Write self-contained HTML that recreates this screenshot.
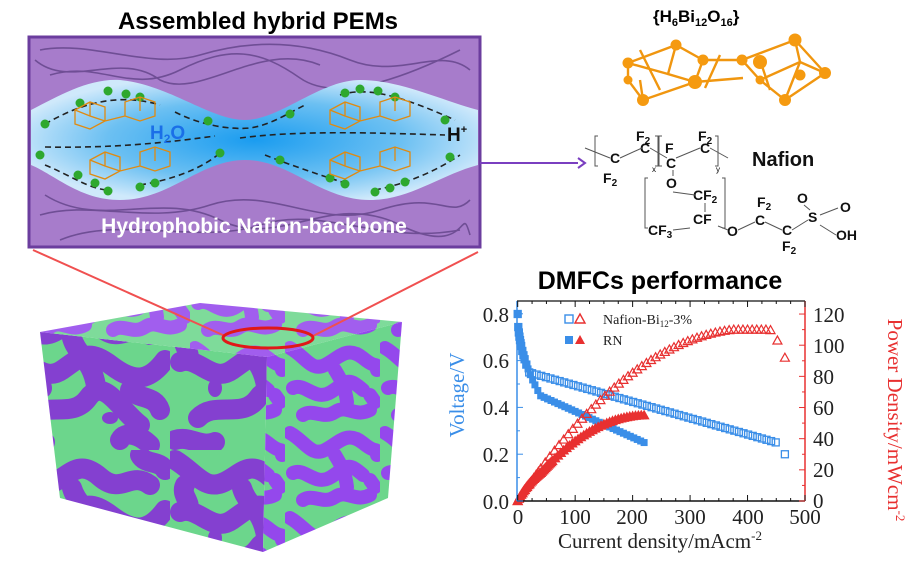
<!DOCTYPE html>
<html><head><meta charset="utf-8">
<style>
html,body{margin:0;padding:0;background:#fff;}
svg{display:block;}
</style></head>
<body>
<svg id="s" width="912" height="562" viewBox="0 0 912 562" xmlns="http://www.w3.org/2000/svg">
<defs>
<radialGradient id="ch" cx="0.5" cy="0.5" r="0.55">
<stop offset="0" stop-color="#1a9cf0"/><stop offset="0.6" stop-color="#6cc0f2"/><stop offset="1" stop-color="#cfe9fb"/>
</radialGradient>
<pattern id="blob" patternUnits="userSpaceOnUse" width="170" height="150">
<rect width="170" height="150" fill="#6cd68c"/>
<g fill="none" stroke="#8440d0" stroke-width="20" stroke-linecap="round" stroke-linejoin="round">
<path d="M5 10 C25 22 34 40 52 33 S78 8 100 27 S130 20 150 35"/>
<path d="M10 62 C28 55 42 84 62 70 S88 48 112 66 S150 80 165 60"/>
<path d="M28 118 C45 100 72 120 88 98 S120 110 140 125"/>
<path d="M72 38 C77 55 92 60 96 86"/>
<path d="M15 35 C10 45 22 52 18 60"/>
<path d="M130 90 C140 100 155 95 160 110"/>
<path d="M5 140 C20 135 30 148 45 142"/>
<path d="M120 140 C125 130 140 135 150 145"/>
<path d="M140 5 C145 15 160 10 165 20"/>
</g>
<g fill="#8440d0"><ellipse cx="110" cy="118" rx="8" ry="6"/><ellipse cx="45" cy="88" rx="7" ry="9"/></g>
</pattern>
<pattern id="blob2" patternUnits="userSpaceOnUse" width="95" height="85">
<rect width="95" height="85" fill="#6cd68c"/>
<g fill="none" stroke="#9448ec" stroke-width="14" stroke-linecap="round" stroke-linejoin="round">
<path d="M5 8 C20 16 26 32 40 25 S62 5 78 18 S90 20 92 30"/>
<path d="M8 48 C20 42 30 62 46 52 S62 36 78 50"/>
<path d="M50 30 C56 40 60 46 62 62"/>
<path d="M18 75 C28 68 38 80 50 72 S70 78 85 70"/>
<path d="M85 55 L90 62"/>
</g>
</pattern>
</defs>

<!-- Top panel -->
<text x="258" y="29" text-anchor="middle" font-family="Liberation Sans, sans-serif" font-weight="bold" font-size="24">Assembled hybrid PEMs</text>
<rect x="29" y="37" width="451" height="210" fill="#a77ccb" stroke="#6b3d9e" stroke-width="3"/>
<g fill="none" stroke="#6a4a90" stroke-width="1.6" opacity="0.9">
<path d="M40 50 C90 40 150 70 200 55 S300 40 350 60 S440 45 470 70"/>
<path d="M50 75 C100 60 130 95 180 70 S260 50 300 78 S420 70 460 50"/>
<path d="M35 60 C70 90 120 50 160 80 C200 100 260 40 320 65"/>
<path d="M40 215 C90 200 150 225 210 205 S320 230 380 210 S450 220 470 200"/>
<path d="M45 195 C100 230 160 190 220 220 S330 190 400 225 S460 200 470 235"/>
<path d="M60 240 C120 215 200 245 260 225 S380 245 460 230"/>
</g>
<path d="M31 110 C60 95 90 78 120 80 C170 85 210 120 245 120 C280 120 320 80 360 80 C400 80 440 100 478 110 L478 165 C440 175 410 200 370 200 C320 200 290 160 245 160 C200 160 170 200 120 200 C80 200 55 175 31 165 Z" fill="url(#ch)"/>
<g fill="none" stroke="#222" stroke-width="1.6" stroke-dasharray="6,4">
<path d="M45 124 C70 110 110 90 160 105"/>
<path d="M175 112 C200 125 230 130 250 128 C270 125 285 115 305 105"/>
<path d="M45 147 C100 148 150 145 215 136"/>
<path d="M240 138 C300 130 380 133 445 135"/>
<path d="M45 165 C70 175 90 190 110 190"/>
<path d="M140 185 C170 180 200 170 220 153"/>
<path d="M265 155 C290 165 320 175 345 183"/>
<path d="M375 190 C400 185 430 175 460 155"/>
<path d="M340 95 C370 85 410 100 455 120"/>
</g>
<g fill="#2ea82e">
<circle cx="45" cy="124" r="4.5"/><circle cx="80" cy="103" r="4.5"/><circle cx="108" cy="91" r="4.5"/><circle cx="126" cy="94" r="4.5"/><circle cx="140" cy="97" r="4.5"/>
<circle cx="208" cy="121" r="4.5"/><circle cx="290" cy="114" r="4.5"/>
<circle cx="345" cy="93" r="4.5"/><circle cx="360" cy="89" r="4.5"/><circle cx="378" cy="91" r="4.5"/><circle cx="395" cy="97" r="4.5"/><circle cx="445" cy="120" r="4.5"/>
<circle cx="40" cy="155" r="4.5"/><circle cx="78" cy="175" r="4.5"/><circle cx="95" cy="183" r="4.5"/><circle cx="108" cy="191" r="4.5"/><circle cx="140" cy="187" r="4.5"/><circle cx="155" cy="183" r="4.5"/><circle cx="220" cy="153" r="4.5"/>
<circle cx="280" cy="160" r="4.5"/><circle cx="330" cy="178" r="4.5"/><circle cx="345" cy="184" r="4.5"/><circle cx="375" cy="192" r="4.5"/><circle cx="390" cy="188" r="4.5"/><circle cx="405" cy="182" r="4.5"/><circle cx="450" cy="157" r="4.5"/>
</g>
<g fill="none" stroke="#e08a10" stroke-width="1.3">
<path d="M75 110 l15 -8 l15 5 l0 14 l-15 8 l-15 -5 z M90 102 l0 14 l15 5 M75 110 l15 6 M105 121 l20 -5 M125 116 l0 -14 l15 -5 l15 5 l0 14 l-15 5 l-15 -5 M140 97 l0 14"/>
<path d="M90 160 l15 -8 l15 5 l0 14 l-15 8 l-15 -5 z M105 152 l0 14 l15 5 M90 160 l15 6 M120 171 l20 -5 M140 166 l0 -14 l15 -5 l15 5 l0 14 l-15 5 l-15 -5 M155 147 l0 14"/>
<path d="M330 110 l15 -8 l15 5 l0 14 l-15 8 l-15 -5 z M345 102 l0 14 l15 5 M330 110 l15 6 M360 121 l20 -5 M380 116 l0 -14 l15 -5 l15 5 l0 14 l-15 5 l-15 -5 M395 97 l0 14"/>
<path d="M330 160 l15 -8 l15 5 l0 14 l-15 8 l-15 -5 z M345 152 l0 14 l15 5 M330 160 l15 6 M360 171 l20 -5 M380 166 l0 -14 l15 -5 l15 5 l0 14 l-15 5 l-15 -5 M395 147 l0 14"/>
</g>
<text x="150" y="139" font-family="Liberation Sans, sans-serif" font-weight="bold" font-size="19" fill="#1a6fe8">H<tspan font-size="12" dy="4">2</tspan><tspan dy="-4">O</tspan></text>
<text x="447" y="141" font-family="Liberation Sans, sans-serif" font-weight="bold" font-size="19" fill="#111">H<tspan font-size="11" dy="-8">+</tspan></text>
<text x="254" y="233" text-anchor="middle" font-family="Liberation Sans, sans-serif" font-weight="bold" font-size="21" fill="#fff">Hydrophobic Nafion-backbone</text>
<line x1="480" y1="163" x2="578" y2="163" stroke="#7a3fc0" stroke-width="2"/>
<path d="M578 158 L585 163 L578 168" fill="none" stroke="#7a3fc0" stroke-width="2"/>

<!-- Right top -->
<text x="653" y="22" font-family="Liberation Sans, sans-serif" font-weight="bold" font-size="17">{H<tspan font-size="11" dy="4">6</tspan><tspan dy="-4">Bi</tspan><tspan font-size="11" dy="4">12</tspan><tspan dy="-4">O</tspan><tspan font-size="11" dy="4">16</tspan><tspan dy="-4">}</tspan></text>
<g stroke="#f0960f" stroke-width="2.4" fill="none">
<path d="M628 63 L676 45 L703 60 L695 82 L643 100 L628 80 Z M676 45 L668 74 L695 82 M628 63 L668 74 M643 100 L640 80 M703 60 L742 60 L760 80 M695 82 L743 78 M742 60 L795 40 L825 73 L785 100 L760 80 Z M795 40 L800 62 L825 73 M760 80 L800 62 M785 100 L800 62 M760 60 L770 90 M640 50 L660 90 M720 55 L705 88"/>
</g>
<g fill="#f59a10">
<circle cx="628" cy="63" r="5.5"/><circle cx="676" cy="45" r="5.5"/><circle cx="703" cy="60" r="5.5"/><circle cx="695" cy="82" r="7"/><circle cx="643" cy="100" r="6"/><circle cx="628" cy="80" r="4.5"/>
<circle cx="742" cy="60" r="5.5"/><circle cx="760" cy="62" r="7"/><circle cx="795" cy="40" r="6.5"/><circle cx="825" cy="73" r="6"/><circle cx="785" cy="100" r="6"/><circle cx="800" cy="75" r="5.5"/><circle cx="760" cy="80" r="4.5"/>
</g>
<g font-family="Liberation Sans, sans-serif" font-weight="bold" font-size="14" fill="#111">
<text x="636" y="141">F<tspan font-size="10" dy="3">2</tspan></text>
<text x="698" y="141">F<tspan font-size="10" dy="3">2</tspan></text>
<text x="610" y="163">C</text><text x="640" y="153">C</text>
<text x="665" y="153">F</text><text x="666" y="168">C</text>
<text x="700" y="153">C</text>
<text x="603" y="183">F<tspan font-size="10" dy="3">2</tspan></text>
<text x="666" y="188">O</text>
<text x="693" y="200">CF<tspan font-size="10" dy="3">2</tspan></text>
<text x="693" y="224">CF</text>
<text x="648" y="235">CF<tspan font-size="10" dy="3">3</tspan></text>
<text x="727" y="236">O</text>
<text x="757" y="207">F<tspan font-size="10" dy="3">2</tspan></text>
<text x="755" y="225">C</text><text x="782" y="235">C</text>
<text x="782" y="251">F<tspan font-size="10" dy="3">2</tspan></text>
<text x="808" y="222">S</text>
<text x="797" y="203">O</text><text x="840" y="212">O</text>
<text x="836" y="240">OH</text>
<text x="752" y="166" font-size="20">Nafion</text>
</g>
<g stroke="#555" stroke-width="1" fill="none">
<path d="M598 136 l-3 0 l0 30 l3 0 M655 136 l3 0 l0 30 l-3 0 M662 136 l-3 0 l0 30 l3 0 M715 136 l3 0 l0 30 l-3 0 M648 178 l-3 0 l0 50 l3 0 M722 178 l3 0 l0 50 l-3 0"/>
<path d="M585 148 L610 158 M620 158 L642 148 M650 148 L667 158 M676 158 L700 148 M710 148 L728 158 M673 170 L673 176 M673 192 L695 195 M705 203 L705 212 M690 228 L673 230 M718 226 L728 230 M738 230 L755 222 M765 222 L782 230 M792 230 L808 220 M820 215 L838 208 M804 205 L810 210 M820 225 L836 235"/>
</g>
<text x="652" y="172" font-family="Liberation Sans, sans-serif" font-size="8">x</text>
<text x="716" y="172" font-family="Liberation Sans, sans-serif" font-size="8">y</text>

<!-- Cube -->
<polygon points="40,332 267,357 263,552 60,498" fill="url(#blob)"/>
<polygon points="267,357 402,322 388,498 263,552" fill="url(#blob2)"/>
<polygon points="40,332 200,303 402,322 267,357" fill="url(#blob2)" opacity="0.95"/>
<polygon points="40,332 200,303 402,322 267,357" fill="#fff" opacity="0.08"/>
<line x1="33" y1="250" x2="225" y2="336" stroke="#f05050" stroke-width="2"/>
<line x1="478" y1="252" x2="313" y2="336" stroke="#f05050" stroke-width="2"/>
<ellipse cx="268" cy="338" rx="45" ry="10" fill="none" stroke="#e01818" stroke-width="3"/>

<!-- Chart -->
<text x="660" y="289" text-anchor="middle" font-family="Liberation Sans, sans-serif" font-weight="bold" font-size="25">DMFCs performance</text>
<g id="plot"></g>
<line x1="517" y1="301" x2="805" y2="301" stroke="#111" stroke-width="1.2"/>
<line x1="517" y1="501" x2="805" y2="501" stroke="#111" stroke-width="1.5"/>
<line x1="517" y1="301" x2="517" y2="501" stroke="#3a8ee8" stroke-width="1.5"/>
<line x1="805" y1="301" x2="805" y2="501" stroke="#e83030" stroke-width="1.5"/>
<g id="ticks"></g>
<g font-family="Liberation Serif, serif" font-size="21" fill="#222">
<text x="509" y="322" text-anchor="end">0.8</text>
<text x="509" y="368" text-anchor="end">0.6</text>
<text x="509" y="415" text-anchor="end">0.4</text>
<text x="509" y="462" text-anchor="end">0.2</text>
<text x="509" y="509" text-anchor="end">0.0</text>
<text x="518" y="524" text-anchor="middle">0</text>
<text x="575" y="524" text-anchor="middle">100</text>
<text x="632" y="524" text-anchor="middle">200</text>
<text x="690" y="524" text-anchor="middle">300</text>
<text x="748" y="524" text-anchor="middle">400</text>
<text x="805" y="524" text-anchor="middle">500</text>
<text x="813" y="322">120</text>
<text x="813" y="353">100</text>
<text x="813" y="384">80</text>
<text x="813" y="415">60</text>
<text x="813" y="446">40</text>
<text x="813" y="477">20</text>
<text x="813" y="508">0</text>
<text x="660" y="548" text-anchor="middle">Current density/mAcm<tspan font-size="13" dy="-8">-2</tspan></text>
</g>
<text transform="translate(464,395) rotate(-90)" text-anchor="middle" font-family="Liberation Serif, serif" font-size="21" fill="#3a8ee8">Voltage/V</text>
<text transform="translate(888,420) rotate(90)" text-anchor="middle" font-family="Liberation Serif, serif" font-size="21" fill="#e83030">Power Density/mWcm<tspan font-size="13" dy="-8">-2</tspan></text>
<g font-family="Liberation Serif, serif" font-size="14" fill="#222">
<rect x="565" y="315" width="8" height="8" fill="none" stroke="#3a8ee8" stroke-width="1.4"/>
<path d="M575 323 L580 314 L585 323 Z" fill="none" stroke="#e83030" stroke-width="1.4"/>
<text x="603" y="324">Nafion-Bi<tspan font-size="9" dy="3">12</tspan><tspan dy="-3">-3%</tspan></text>
<rect x="565" y="336" width="8" height="8" fill="#3a8ee8"/>
<path d="M575 344 L580 335 L585 344 Z" fill="#e83030"/>
<text x="603" y="345">RN</text>
</g>
</svg>
<script>
(function(){
var ns="http://www.w3.org/2000/svg",g=document.getElementById("plot"),t=document.getElementById("ticks");
function X(i){return 517.7+i*0.5746;}
function YV(v){return 501-v*233.75;}
function YP(p){return 501-p*1.558;}
function el(n,a,p){var e=document.createElementNS(ns,n);for(var k in a)e.setAttribute(k,a[k]);p.appendChild(e);}
function vA(i){if(i<20)return 0.8-0.25*Math.sqrt(i/20);return 0.55-(i-20)*0.3/430;}
function vB(i){if(i<40)return 0.8-0.35*Math.sqrt(i/40);return 0.45-(i-40)*0.2/180;}
var i,v;
var A=[0,1,2,3,4,5,6,8,10,12,15,20];for(i=25;i<=450;i+=8)A.push(i);
A.forEach(function(i){v=vA(i);el("rect",{x:X(i)-3.5,y:YV(v)-3.5,width:7,height:7,fill:"none",stroke:"#3a8ee8","stroke-width":1.3},g);});
el("rect",{x:X(465)-3.5,y:YV(0.2)-3.5,width:7,height:7,fill:"none",stroke:"#3a8ee8","stroke-width":1.3},g);
var B=[0,1,2,3,4,5,6,8,10,12,15,18,22,26,30,35];for(i=40;i<=220;i+=6)B.push(i);
B.forEach(function(i){v=vB(i);el("rect",{x:X(i)-3.5,y:YV(v)-3.5,width:7,height:7,fill:"#3a8ee8"},g);});
function pA(i){var p=i*vA(i)*0.97;return Math.min(p,110);}
function tri(x,y,f){el("path",{d:"M"+(x-4.5)+" "+(y+3.5)+" L"+x+" "+(y-4.5)+" L"+(x+4.5)+" "+(y+3.5)+" Z",fill:f?"#e83030":"none",stroke:"#e83030","stroke-width":1.2},g);}
for(i=0;i<=440;i+=(i<40?4:8)){tri(X(i),YP(pA(i)),false);}
tri(X(452),YP(103),false);tri(X(465),YP(92),false);
for(i=0;i<=220;i+=(i<60?2:5)){tri(X(i),YP(Math.min(i*vB(i),55)),true);}
for(i=0;i<=500;i+=25){var h=(i%100==0)?6:3;el("line",{x1:X(i),y1:301,x2:X(i),y2:301+h,stroke:"#111"},t);el("line",{x1:X(i),y1:501,x2:X(i),y2:501-h,stroke:"#111"},t);}
for(i=0;i<=8;i++){var y=501-i*23.4;el("line",{x1:517,y1:y,x2:517+(i%2?3:6),y2:y,stroke:"#3a8ee8"},t);}
for(i=0;i<=12;i++){var y=501-i*15.58;el("line",{x1:805,y1:y,x2:805-(i%2?3:6),y2:y,stroke:"#e83030"},t);}
})();
</script>
</body></html>
